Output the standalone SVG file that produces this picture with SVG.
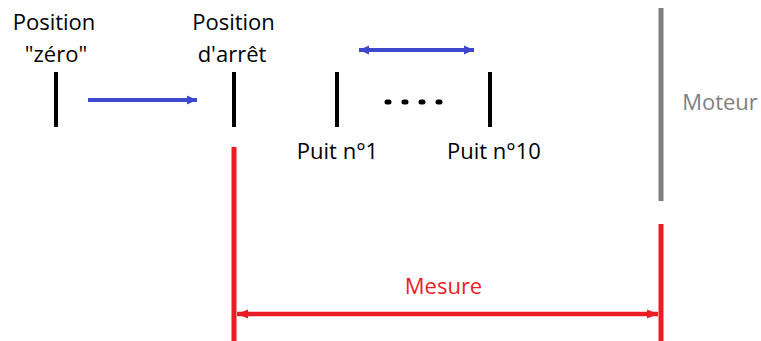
<svg xmlns="http://www.w3.org/2000/svg" width="761" height="341" viewBox="0 0 761 341">
  <style>
    text { font-family: "Open Sans", "Liberation Sans", sans-serif; font-size: 22px; text-anchor: middle; }
    .lbl { fill: #000000; }
    .grey { fill: #7f7f7f; }
    .red { fill: #ed1c24; }
    .bar { stroke: #000000; stroke-width: 4; }
    .motor { stroke: #7f7f7f; stroke-width: 5; }
    .redbar { stroke: #ed1c24; stroke-width: 5; }
    .blue { stroke: #3f48cc; stroke-width: 4; fill: none; }
    .redline { stroke: #ed1c24; stroke-width: 4.5; fill: none; }
  </style>
  <defs>
    <marker id="blueHead" markerUnits="userSpaceOnUse" markerWidth="11" markerHeight="11" viewBox="0 0 11 11" refX="10" refY="5.5" orient="auto-start-reverse">
      <path d="M0,1 L10,5.5 L0,10 Z" fill="#3f48cc"/>
    </marker>
    <marker id="redHead" markerUnits="userSpaceOnUse" markerWidth="12" markerHeight="12" viewBox="0 0 12 12" refX="11" refY="6" orient="auto-start-reverse">
      <path d="M0,1.5 L11,6 L0,10.5 Z" fill="#ed1c24"/>
    </marker>
  </defs>

  <rect width="761" height="341" fill="#ffffff"/>

  <!-- zero position -->
  <g id="zero">
    <text class="lbl" x="54" y="29.5">Position</text>
    <text class="lbl" x="56" y="61.5">"zéro"</text>
    <line class="bar" x1="56" y1="72" x2="56" y2="127"/>
  </g>

  <!-- stop position -->
  <g id="arret">
    <text class="lbl" x="233.5" y="29.5">Position</text>
    <text class="lbl" x="232" y="61.5">d'arrêt</text>
    <line class="bar" x1="234" y1="72" x2="234" y2="127"/>
  </g>

  <!-- first well -->
  <g id="puit1">
    <line class="bar" x1="337" y1="72" x2="337" y2="127"/>
    <text class="lbl" x="337.5" y="159">Puit n°1</text>
  </g>

  <!-- dots between wells -->
  <g id="dots">
    <line x1="387" y1="102" x2="440" y2="102" stroke="#000000" stroke-width="5" stroke-linecap="round" stroke-dasharray="2 15"/>
  </g>

  <!-- tenth well -->
  <g id="puit10">
    <line class="bar" x1="490" y1="72" x2="490" y2="127"/>
    <text class="lbl" x="494" y="159">Puit n°10</text>
  </g>

  <!-- motor -->
  <g id="moteur">
    <line class="motor" x1="661" y1="8" x2="661" y2="201"/>
    <text class="grey" x="720" y="110">Moteur</text>
  </g>

  <!-- measurement -->
  <g id="mesure">
    <line class="redbar" x1="234" y1="147" x2="234" y2="341"/>
    <line class="redbar" x1="661" y1="224" x2="661" y2="341"/>
    <text class="red" x="443.5" y="294">Mesure</text>
  </g>

  <!-- connectors -->
  <g id="connectors">
    <line class="blue" x1="88" y1="100" x2="197" y2="100" marker-end="url(#blueHead)"/>
    <line class="blue" x1="359" y1="50" x2="474" y2="50" marker-start="url(#blueHead)" marker-end="url(#blueHead)"/>
    <line class="redline" x1="237" y1="314" x2="658" y2="314" marker-start="url(#redHead)" marker-end="url(#redHead)"/>
  </g>
</svg>
